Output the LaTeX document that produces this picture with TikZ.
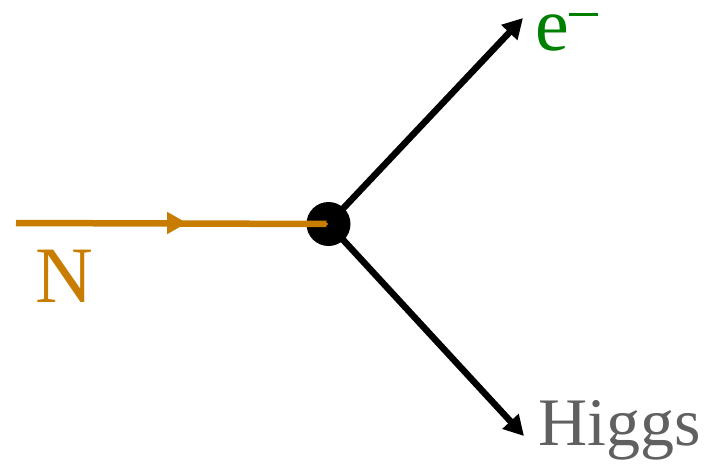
\documentclass[tikz,border=0pt]{standalone}
\usepackage{fontspec}
\setmainfont{Liberation Serif}
\usetikzlibrary{arrows.meta}
\definecolor{nor}{RGB}{200,125,0}
\definecolor{egr}{RGB}{0,128,0}
\definecolor{hgr}{RGB}{96,96,96}
\begin{document}
\begin{tikzpicture}[x=1pt,y=-1pt,
  leg/.style={line width=6.5pt},
  tip/.style={-{Triangle[length=20pt,width=21pt]}},
  lab/.style={inner sep=0pt,anchor=base west}]
\useasboundingbox (0,0) rectangle (709,463);
\coordinate (a) at (16,223);
\coordinate (m0) at (150,223);
\coordinate (m1) at (187,223);
\coordinate (e) at (523,18);
\coordinate (h) at (524,436);
\node[circle,fill=black,minimum size=44pt,inner sep=0pt] (v) at (328.5,224) {};
\draw[leg,nor] (a) -- (v.center);
\draw[leg,nor,tip] (m0) -- (m1);
\draw[leg,tip] (v.center) -- (e);
\draw[leg,tip] (v.center) -- (h);
\node[lab,text=nor,font=\fontsize{80}{80}\selectfont] (nl) at (35,302) {N};
\node[lab,text=egr,font=\fontsize{76}{76}\selectfont] (el) at (535,50) {e\hspace{0.5pt}\rule[34.5pt]{29pt}{3pt}};
\node[lab,text=hgr,font=\fontsize{68}{68}\selectfont] (hl) at (538,445) {Higgs};
\end{tikzpicture}
\end{document}
